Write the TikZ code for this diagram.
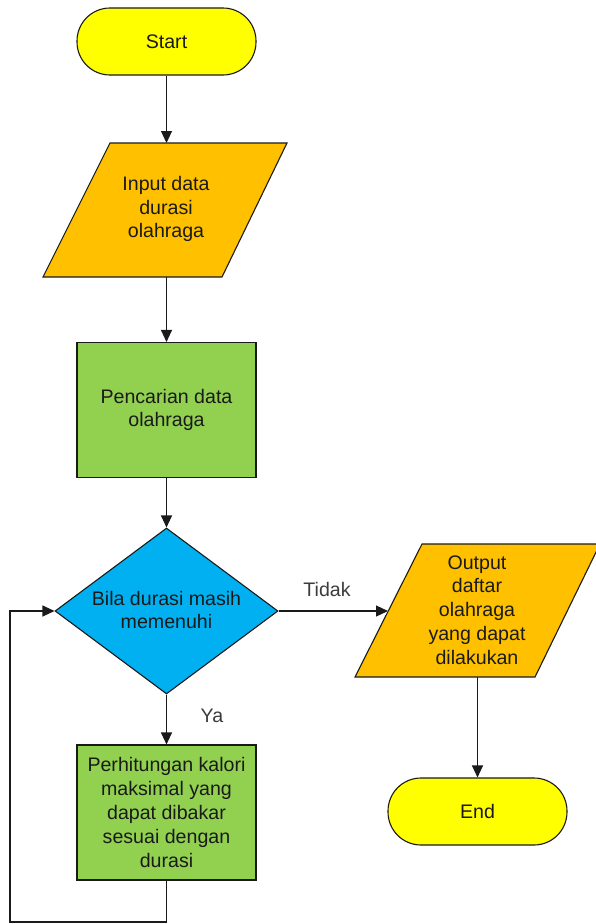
\documentclass[tikz,border=0pt]{standalone}
\usepackage{fontspec}
\setmainfont{Liberation Sans}
\usetikzlibrary{shapes.geometric,arrows.meta}
\definecolor{termyellow}{HTML}{FFFF00}
\definecolor{ioorange}{HTML}{FFC000}
\definecolor{procgreen}{HTML}{92D050}
\definecolor{decblue}{HTML}{00B0F0}
\definecolor{ink}{HTML}{1A1A1A}
\begin{document}
\begin{tikzpicture}[x=1pt,y=-1pt,
  every node/.style={font=\fontsize{19.6}{23.8}\selectfont, text=ink, align=center, inner sep=0pt},
  shapeline/.style={draw=ink, line width=1.1pt},
  term/.style={shapeline, fill=termyellow, rectangle, rounded corners=33pt, minimum width=179pt, minimum height=67pt},
  procbox/.style={shapeline, fill=procgreen, rectangle, minimum width=179pt, minimum height=135pt},
  decbox/.style={shapeline, fill=decblue, diamond, minimum width=223pt, minimum height=166pt},
  iobox/.style={shapeline, fill=ioorange},
  flow/.style={draw=ink, line width=1.1pt, -{Triangle[length=12pt,width=11pt]}},
  lbl/.style={text=ink!85}
]
\path[use as bounding box, fill=white] (0,0) rectangle (595,924);

% Start
\node[term] (start) at (166.5,41.5) {Start};

% Input parallelogram
\draw[iobox] (110,143) -- (287,143) -- (222,277) -- (43,277) -- cycle;
\node (input) at (166,209) {Input data\\durasi\\olahraga};
\coordinate (inputtop) at (166.5,143);
\coordinate (inputbot) at (166.5,277);

% Search process
\node[procbox] (search) at (166.5,410) {Pencarian data\\olahraga};

% Decision
\node[decbox] (dec) at (166.5,611) {};
\node (dectext) at (166.5,610) {Bila durasi masih\\memenuhi};

% Output parallelogram
\draw[iobox] (422,544) -- (600,544) -- (535,677) -- (355,677) -- cycle;
\node (output) at (477,610) {Output\\daftar\\olahraga\\yang dapat\\dilakukan};
\coordinate (outleft) at (388,611);
\coordinate (outbot) at (477.5,677);

% End
\node[term] (end) at (477.5,811.5) {End};

% Calculation process
\node[procbox] (calc) at (166.5,812.5) {Perhitungan kalori\\maksimal yang\\dapat dibakar\\sesuai dengan\\durasi};

% Loop coordinates
\coordinate (loopa) at (166.5,922);
\coordinate (loopb) at (10,922);
\coordinate (loopc) at (10,611);

% Connectors
\draw[flow] (start.south) -- (inputtop);
\draw[flow] (inputbot) -- (search.north);
\draw[flow] (search.south) -- (dec.north);
\draw[flow] (dec.east) -- (outleft);
\draw[flow] (outbot) -- (end.north);
\draw[flow] (dec.south) -- (calc.north);
\draw[flow] (calc.south) -- (loopa) -- (loopb) -- (loopc) -- (dec.west);

% Labels
\node[lbl] (tidak) at (327,589) {Tidak};
\node[lbl] (ya) at (212,716) {Ya};
\end{tikzpicture}
\end{document}
